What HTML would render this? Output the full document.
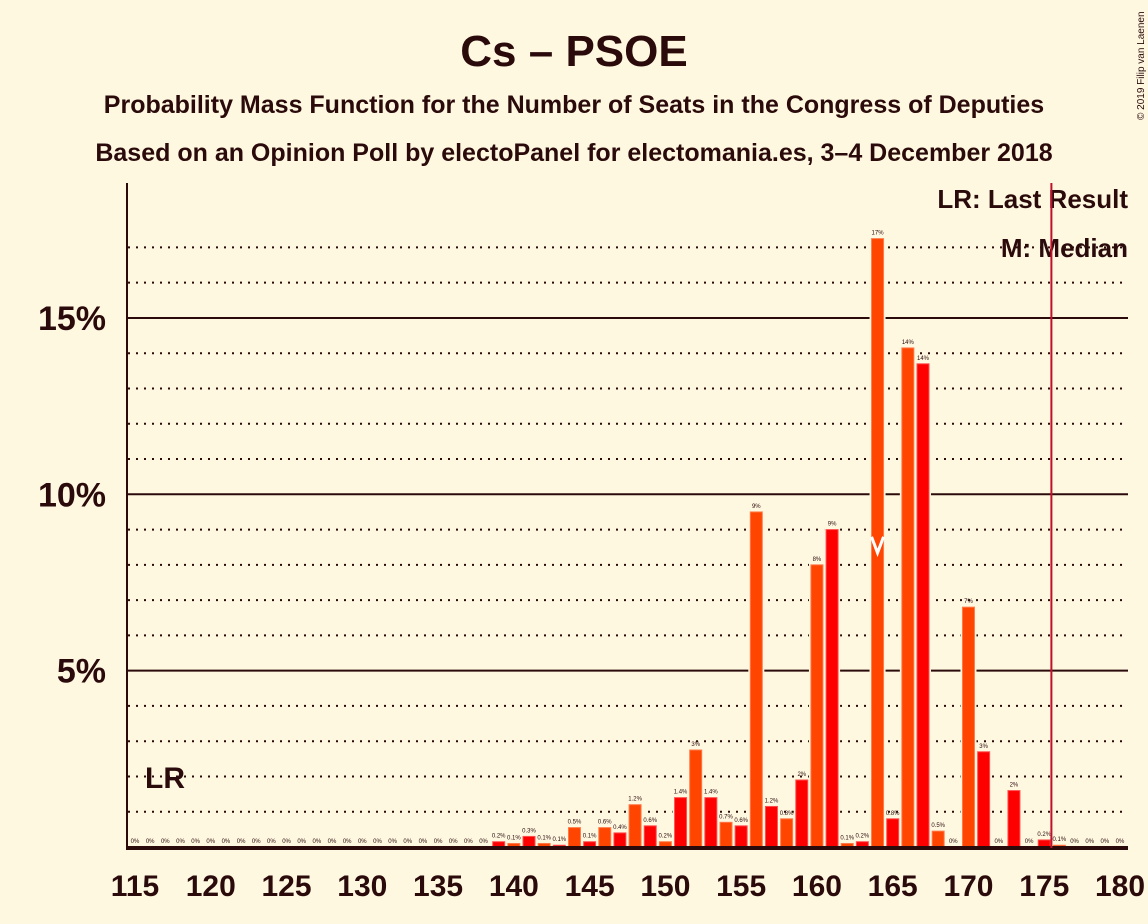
<!DOCTYPE html>
<html><head><meta charset="utf-8"><style>
body{margin:0;background:#fff8e1;}
svg{display:block;font-family:"Liberation Sans",sans-serif;}
</style></head><body>
<svg id="chart" width="1148" height="924" viewBox="0 0 1148 924">
<rect width="1148" height="924" fill="#fff8e1"/>
<text x="574" y="66" text-anchor="middle" font-size="44" font-weight="bold" fill="#2a0a0a">Cs – PSOE</text>
<text x="574" y="113" text-anchor="middle" font-size="25" font-weight="bold" fill="#2a0a0a">Probability Mass Function for the Number of Seats in the Congress of Deputies</text>
<text x="574" y="161" text-anchor="middle" font-size="25" font-weight="bold" fill="#2a0a0a">Based on an Opinion Poll by electoPanel for electomania.es, 3–4 December 2018</text>
<text transform="translate(1144,120) rotate(-90)" font-size="10" fill="#2a0a0a">© 2019 Filip van Laenen</text>
<g id="grid"></g>
<g id="bars"></g>
<g id="labels"></g>
<line x1="127" y1="183" x2="127" y2="848" stroke="#2a0a0a" stroke-width="2"/>
<line x1="126" y1="848" x2="1128" y2="848" stroke="#2a0a0a" stroke-width="4"/>
<text x="1128" y="208" text-anchor="end" font-size="26" font-weight="bold" fill="#2a0a0a">LR: Last Result</text>
<text x="1128" y="257" text-anchor="end" font-size="26" font-weight="bold" fill="#2a0a0a">M: Median</text>
</svg>
<script>
const seats = [115,116,117,118,119,120,121,122,123,124,125,126,127,128,129,130,131,132,133,134,135,136,137,138,139,140,141,142,143,144,145,146,147,148,149,150,151,152,153,154,155,156,157,158,159,160,161,162,163,164,165,166,167,168,169,170,171,172,173,174,175,176,177,178,179,180];
const probs = [0,0,0,0,0,0,0,0,0,0,0,0,0,0,0,0,0,0,0,0,0,0,0,0,0.15,0.1,0.3,0.1,0.05,0.55,0.15,0.55,0.4,1.2,0.6,0.15,1.4,2.75,1.4,0.7,0.6,9.5,1.15,0.8,1.9,8.0,9.0,0.1,0.15,17.25,0.8,14.15,13.7,0.45,0,6.8,2.7,0,1.6,0,0.2,0.05,0,0,0,0];
const printed = ["0%","0%","0%","0%","0%","0%","0%","0%","0%","0%","0%","0%","0%","0%","0%","0%","0%","0%","0%","0%","0%","0%","0%","0%","0.2%","0.1%","0.3%","0.1%","0.1%","0.5%","0.1%","0.6%","0.4%","1.2%","0.6%","0.2%","1.4%","3%","1.4%","0.7%","0.6%","9%","1.2%","0.8%","2%","8%","9%","0.1%","0.2%","17%","0.8%","14%","14%","0.5%","0%","7%","3%","0%","2%","0%","0.2%","0.1%","0%","0%","0%","0%"];
const xTicks = [115,120,125,130,135,140,145,150,155,160,165,170,175,180];
const yTicks = [5,10,15];
const lastResult = 176;
const median = 164;
const NS='http://www.w3.org/2000/svg';
const X = s => 135 + (s-115)*15.154;
const Y = p => 847 - p*35.27;
function mk(tag, attrs, parent){const e=document.createElementNS(NS,tag);for(const k in attrs)e.setAttribute(k,attrs[k]);parent.appendChild(e);return e;}
const grid=document.getElementById('grid'), bars=document.getElementById('bars'), labels=document.getElementById('labels'), svg=document.getElementById('chart');
for(let p=1;p<=17;p++){
  const major = yTicks.includes(p);
  const l=mk('line',{x1:128,x2:1128,y1:Y(p),y2:Y(p),stroke:'#2a0a0a','stroke-width':2,'stroke-dasharray':major?'none':'2,6'},grid);
  
  
}
yTicks.forEach(t=>{
  const e=mk('text',{x:106,y:Y(t)+12,'text-anchor':'end','font-size':34,'font-weight':'bold',fill:'#2a0a0a'},svg);
  e.textContent=t+'%';
  
  
});
xTicks.forEach(t=>{
  const e=mk('text',{x:X(t),y:896,'text-anchor':'middle','font-size':30,'font-weight':'bold',fill:'#2a0a0a'},svg);
  e.textContent=t;
  
  
});
seats.forEach((s,i)=>{
  const p=probs[i];
  const cx=X(s);
  if(p>0){
    const h=847-Y(p);
    const halo=mk('rect',{x:cx-8,y:Y(p)-2,width:16,height:h+2,fill:'#fff8e1'},bars);
    
    
    const r=mk('rect',{x:cx-6,y:Y(p),width:12,height:h,fill:s%2===0?'#ff4500':'#f00',stroke:s%2===0?'#ff7a4a':'#ff5050','stroke-width':1},bars);
    
    
  }
  const t=mk('text',{x:cx,y:Y(p)-4,'text-anchor':'middle','font-size':6,fill:'#2a0a0a'},labels);
  t.textContent=printed[i];
  
  
});
const mi=seats.indexOf(median);
const mx=X(median), my=Y(probs[mi]*0.5)+10;
const v=mk('polyline',{points:`${mx-6},${my-16} ${mx},${my} ${mx+6},${my-16}`,fill:'none',stroke:'#fff','stroke-width':3},svg);


const lx=X(lastResult)-8;
const lr=mk('line',{x1:lx,x2:lx,y1:183,y2:848,stroke:'#c0102a','stroke-width':2},svg);


const lrt=mk('text',{x:145,y:788,'font-size':30,'font-weight':'bold',fill:'#2a0a0a'},svg);
lrt.textContent='LR';


</script>
</body></html>
